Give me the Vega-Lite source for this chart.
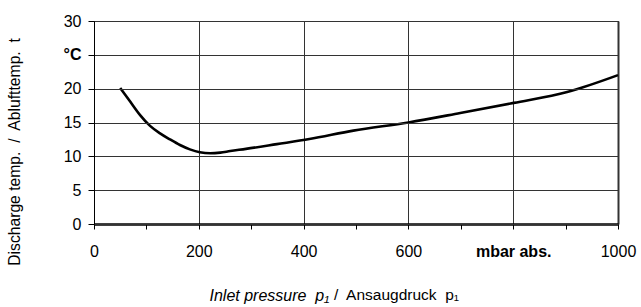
{
  "$schema": "https://vega.github.io/schema/vega-lite/v6.json",
  "width": 524,
  "height": 203,
  "autosize": "none",
  "padding": {"left": 94, "top": 21, "right": 23, "bottom": 83},
  "background": "white",
  "config": {
    "font": "Liberation Sans",
    "view": {"stroke": "black", "strokeWidth": 1},
    "axis": {"labelFont": "Liberation Sans", "titleFont": "Liberation Sans", "labelColor": "black", "titleColor": "black"}
  },
  "title": {
    "text": "/\u00a0 Ansaugdruck\u00a0 p₁",
    "orient": "bottom", "anchor": "start", "frame": "group",
    "dx": 240, "offset": -3.5, "baseline": "alphabetic",
    "font": "Liberation Sans", "fontSize": 15.5, "fontWeight": "normal", "color": "black"
  },
  "data": {
    "values": [
      {"p": 50, "t": 20.1},
      {"p": 69, "t": 18.1},
      {"p": 88, "t": 16.1},
      {"p": 107, "t": 14.5},
      {"p": 126, "t": 13.4},
      {"p": 145, "t": 12.5},
      {"p": 164, "t": 11.67},
      {"p": 183, "t": 11.03},
      {"p": 202, "t": 10.6},
      {"p": 222, "t": 10.45},
      {"p": 241, "t": 10.55},
      {"p": 260, "t": 10.78},
      {"p": 290, "t": 11.1},
      {"p": 349, "t": 11.8},
      {"p": 411, "t": 12.55},
      {"p": 495, "t": 13.8},
      {"p": 600, "t": 15.0},
      {"p": 699, "t": 16.4},
      {"p": 801, "t": 17.9},
      {"p": 903, "t": 19.5},
      {"p": 1000, "t": 22.0}
    ]
  },
  "mark": {"type": "line", "color": "black", "strokeWidth": 2.6, "interpolate": "monotone"},
  "encoding": {
    "x": {
      "field": "p", "type": "quantitative",
      "scale": {"domain": [0, 1000], "nice": false},
      "axis": {
        "values": [0, 100, 200, 300, 400, 500, 600, 700, 800, 900, 1000],
        "format": "d",
        "grid": true, "gridColor": "#333",
        "gridOpacity": {"condition": {"test": "datum.value % 200 == 0", "value": 1}, "value": 0},
        "gridWidth": {"condition": {"test": "datum.value == 1000", "value": 2}, "value": 1},
        "domainColor": "black", "domainWidth": 2.5,
        "tickColor": "black", "tickSize": 5, "tickWidth": 1,
        "labelExpr": "datum.value == 800 ? 'mbar abs.' : (datum.value % 200 == 0 ? datum.label : '')",
        "labelFontWeight": {"condition": {"test": "datum.value == 800", "value": "bold"}, "value": "normal"},
        "labelFontSize": 16,
        "labelPadding": 14, "labelFlush": false, "labelOverlap": false,
        "title": "Inlet pressure\u00a0 p₁",
        "titleFontSize": 16, "titleFontWeight": "normal", "titleFontStyle": "italic",
        "titleAnchor": "start", "titleAlign": "left", "titleBaseline": "alphabetic",
        "titleX": 115, "titleY": 76
      }
    },
    "y": {
      "field": "t", "type": "quantitative",
      "scale": {"domain": [0, 30], "nice": false},
      "axis": {
        "values": [0, 5, 10, 15, 20, 25, 30],
        "grid": true, "gridColor": "#333", "gridWidth": 1, "gridOpacity": 1,
        "zindex": 1,
        "domainColor": "black", "domainWidth": 1,
        "tickColor": "black", "tickSize": 6, "tickWidth": 1,
        "labelExpr": "datum.value == 25 ? '°C\u00a0' : datum.label",
        "labelFontWeight": {"condition": {"test": "datum.value == 25", "value": "bold"}, "value": "normal"},
        "labelFontSize": 16, "labelPadding": 7, "labelFlush": false, "labelOverlap": false,
        "title": "Discharge temp.\u00a0 /\u00a0 Ablufttemp.\u00a0 t",
        "titleFontSize": 15.7, "titleFontWeight": "normal",
        "titleX": -72, "titleY": 130.5
      }
    }
  }
}
